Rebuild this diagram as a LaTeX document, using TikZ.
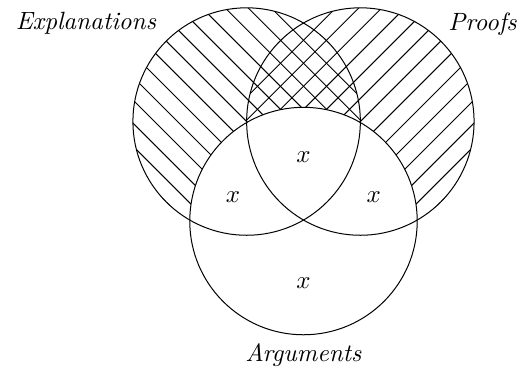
\documentclass[tikz,border=0pt]{standalone}
\begin{document}
\begin{tikzpicture}
	%fix picture size
	\useasboundingbox (-4.27,-2.09) rectangle (3.06,3.11);
	%centres of the sets
	\coordinate (expl) at (-0.8,1.4);
	\coordinate (proof) at (0.8,1.4);
	\coordinate (arg) at (0,0);
	%draw hatching
	\begin{scope}[shift={(expl)}]
		\clip (0,0) circle (1.6);
		\foreach \i in {-7,...,7}
			\draw (\i*0.162-2,\i*0.162+2) -- ++(4,-4);
	\end{scope}
	\begin{scope}[shift={(proof)}]
		\clip (0,0) circle (1.6);
		\foreach \i in {-7,...,7}
			\draw (\i*0.162-2,-\i*0.162-2) -- ++(4,4);
	\end{scope}
	\fill[white] (arg) circle (1.6);
	%draw circles
	\draw (expl) circle (1.6);
	\draw (proof) circle (1.6);
	\draw (arg) circle (1.6);
	%draw labels
	\node (explName) at (-3.06,2.78) {\textit{Explanations}};
	\node (proofName) at (2.52,2.77) {\textit{Proofs}};
	\node (argName) at (0,-1.89) {\textit{Arguments}};
	%draw members
	\node (xTop) at (0,0.90) {$x$};
	\node (xLeft) at (-0.99,0.34) {$x$};
	\node (xRight) at (0.99,0.34) {$x$};
	\node (xBottom) at (0,-0.87) {$x$};
\end{tikzpicture}
\end{document}
